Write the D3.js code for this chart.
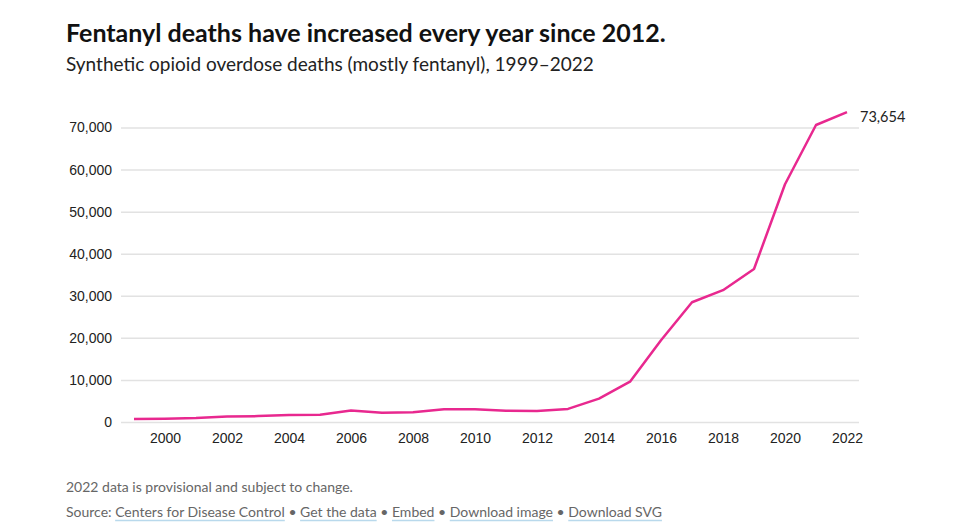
<!DOCTYPE html>
<html>
<head>
<meta charset="utf-8">
<script src="https://cdn.jsdelivr.net/npm/d3@7"></script>
<style>
  body { margin: 0; background: #fff; font-family: Lato, "Noto Sans", sans-serif; }
  .tick text { font-size: 14px; fill: #222; }
</style>
</head>
<body>
<div id="chart"></div>
<script>
const years = [1999, 2000, 2001, 2002, 2003, 2004, 2005, 2006, 2007, 2008, 2009, 2010,
               2011, 2012, 2013, 2014, 2015, 2016, 2017, 2018, 2019, 2020, 2021, 2022];
const deaths = [730, 782, 957, 1295, 1400, 1664, 1742, 2707, 2213, 2306, 3007, 3007,
                2666, 2628, 3105, 5544, 9580, 19413, 28466, 31335, 36359, 56516, 70601, 73654];
const yTicks = [0, 10000, 20000, 30000, 40000, 50000, 60000, 70000];
const xTicks = [2000, 2002, 2004, 2006, 2008, 2010, 2012, 2014, 2016, 2018, 2020, 2022];

const width = 975;
const height = 531;
const margin = { top: 127.5, right: 116, bottom: 109, left: 121 };

const data = years.map((y, i) => ({ year: y, value: deaths[i] }));

const svg = d3.select('#chart')
  .append('svg')
  .attr('width', width)
  .attr('height', height);

svg.append('text')
  .attr('x', 66).attr('y', 42)
  .style('font-size', '25px').style('font-weight', 'bold').style('fill', '#111')
  .text('Fentanyl deaths have increased every year since 2012.');

svg.append('text')
  .attr('x', 66).attr('y', 71)
  .style('font-size', '19px').style('fill', '#222')
  .text('Synthetic opioid overdose deaths (mostly fentanyl), 1999\u20132022');

const xScale = d3.scaleLinear()
  .domain([1999, 2022])
  .range([134, 847]);

const yScale = d3.scaleLinear()
  .domain([0, 70000])
  .range([422, margin.top]);

// grid + y labels
const yAxis = d3.axisLeft(yScale)
  .tickValues(yTicks)
  .tickSize(-(859 - margin.left))
  .tickPadding(9)
  .tickFormat(d3.format(','));

svg.append('g')
  .attr('class', 'y-axis')
  .attr('transform', 'translate(' + margin.left + ',0)')
  .call(yAxis)
  .call(g => g.select('.domain').remove())
  .call(g => g.selectAll('.tick line').attr('stroke', '#e2e2e2').attr('stroke-width', 1.5));

const xAxis = d3.axisBottom(xScale)
  .tickValues(xTicks)
  .tickSize(0)
  .tickPadding(11)
  .tickFormat(d3.format('d'));

svg.append('g')
  .attr('class', 'x-axis')
  .attr('transform', 'translate(0,422)')
  .call(xAxis)
  .call(g => g.select('.domain').remove());

const line = d3.line()
  .x(d => xScale(d.year))
  .y(d => yScale(d.value));

svg.append('path')
  .datum(data)
  .attr('fill', 'none')
  .attr('stroke', '#e8288f')
  .attr('stroke-width', 2.5)
  .attr('stroke-linejoin', 'round')
  .attr('d', line);

const last = data[data.length - 1];
svg.append('text')
  .attr('x', xScale(last.year) + 13)
  .attr('y', yScale(last.value) + 10)
  .style('font-size', '14.5px').style('fill', '#222')
  .text(d3.format(',')(last.value));

// footer
svg.append('text')
  .attr('x', 66).attr('y', 492)
  .style('font-size', '14px').style('fill', '#666')
  .text('2022 data is provisional and subject to change.');

const links = ['Centers for Disease Control', 'Get the data', 'Embed', 'Download image', 'Download SVG'];
const foot = svg.append('text')
  .attr('x', 66).attr('y', 517)
  .style('font-size', '14px').style('fill', '#666');
foot.append('tspan').text('Source: ');
links.forEach((t, i) => {
  if (i > 0) foot.append('tspan').text(' \u2022 ');
  foot.append('tspan').attr('class', 'lnk').text(t);
});

// underlines under links
foot.selectAll('tspan.lnk').each(function () {
  const n = this.getNumberOfChars();
  const s = this.getStartPositionOfChar(0);
  const e = this.getEndPositionOfChar(n - 1);
  svg.append('line')
    .attr('x1', s.x).attr('x2', e.x)
    .attr('y1', 520.5).attr('y2', 520.5)
    .attr('stroke', '#b9d9ec').attr('stroke-width', 1.5);
});
</script>
</body>
</html>
